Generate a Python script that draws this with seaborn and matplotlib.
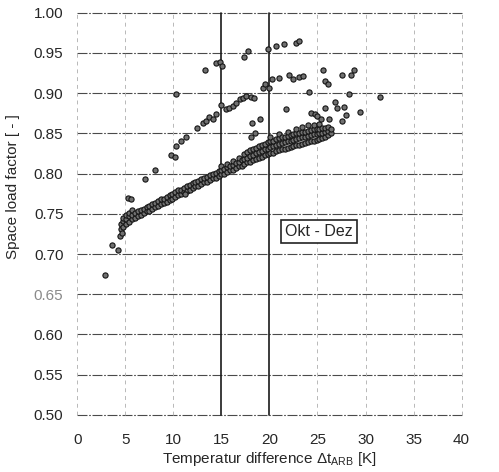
import matplotlib
matplotlib.use("Agg")
import matplotlib.pyplot as plt
import pandas as pd
import seaborn as sns

# dense band of hourly values: (temperature difference, [load factors])
band = [
    (4.5, [0.731, 0.737]), (4.8, [0.734, 0.741, 0.745]), (5.1, [0.737, 0.744, 0.749]),
    (5.4, [0.740, 0.747, 0.751]), (5.7, [0.743, 0.749, 0.755]), (6.0, [0.745, 0.751]),
    (6.3, [0.747, 0.753]), (6.6, [0.749, 0.755]), (6.9, [0.751, 0.756]),
    (7.2, [0.753, 0.758]), (7.5, [0.754, 0.760]), (7.8, [0.756, 0.762]),
    (8.1, [0.758, 0.764]), (8.4, [0.760, 0.766]), (8.7, [0.762, 0.768]),
    (9.0, [0.764, 0.769]), (9.3, [0.765, 0.771]), (9.6, [0.767, 0.773]),
    (9.9, [0.769, 0.775]), (10.2, [0.771, 0.777]), (10.5, [0.773, 0.779]),
    (10.8, [0.775, 0.780]), (11.1, [0.777, 0.782]), (11.4, [0.778, 0.784]),
    (11.7, [0.780, 0.786]), (12.0, [0.782, 0.788]), (12.3, [0.784, 0.789]),
    (12.6, [0.785, 0.791]), (12.9, [0.787, 0.793]), (13.2, [0.789, 0.795]),
    (13.5, [0.790, 0.796]), (13.8, [0.792, 0.798]), (14.1, [0.794, 0.800]),
    (14.4, [0.795, 0.801]), (14.7, [0.797, 0.803]), (15.0, [0.799, 0.805, 0.809]),
    (15.3, [0.800, 0.806]), (15.6, [0.802, 0.808, 0.812]), (15.9, [0.804, 0.810]),
    (16.2, [0.805, 0.811, 0.816]), (16.5, [0.807, 0.813]), (16.8, [0.809, 0.815, 0.820]),
    (17.1, [0.810, 0.817]), (17.4, [0.812, 0.818, 0.824]), (17.7, [0.814, 0.820, 0.827]),
    (18.0, [0.815, 0.822, 0.829]), (18.3, [0.817, 0.823, 0.831]), (18.6, [0.818, 0.825, 0.832]),
    (18.9, [0.820, 0.827, 0.834]), (19.2, [0.821, 0.828, 0.836]), (19.5, [0.823, 0.830, 0.837]),
    (19.8, [0.824, 0.831, 0.839]), (20.1, [0.825, 0.833, 0.840, 0.846]),
    (20.4, [0.826, 0.834, 0.841]), (20.7, [0.828, 0.835, 0.843]),
    (21.0, [0.829, 0.837, 0.844, 0.849]), (21.3, [0.830, 0.838, 0.845]),
    (21.6, [0.831, 0.839, 0.846]), (21.9, [0.832, 0.840, 0.847, 0.852]),
    (22.2, [0.833, 0.841, 0.848]), (22.5, [0.834, 0.842, 0.849]),
    (22.8, [0.835, 0.843, 0.850, 0.855]), (23.1, [0.836, 0.844, 0.851]),
    (23.4, [0.837, 0.845, 0.852, 0.858]), (23.7, [0.838, 0.846, 0.852]),
    (24.0, [0.839, 0.847, 0.853, 0.860]), (24.3, [0.840, 0.848, 0.854]),
    (24.6, [0.841, 0.849, 0.855, 0.861]), (24.9, [0.842, 0.849, 0.855]),
    (25.2, [0.843, 0.850, 0.856, 0.862]), (25.5, [0.844, 0.851, 0.857]),
    (25.8, [0.846, 0.852, 0.857]), (26.1, [0.848, 0.853, 0.858]),
    (26.4, [0.850, 0.855]),
]

# scattered values above / below the band
low_points = [(2.9, 0.674), (3.6, 0.711), (4.2, 0.705), (4.4, 0.722), (4.6, 0.726),
              (5.3, 0.770), (5.6, 0.768), (7.0, 0.793), (8.1, 0.805), (11.2, 0.775)]
mid_points = [(9.8, 0.823), (10.2, 0.821), (10.3, 0.834), (10.8, 0.840), (11.3, 0.845),
              (12.5, 0.857), (13.05, 0.863), (13.4, 0.865), (13.75, 0.870), (14.1, 0.868),
              (14.45, 0.874), (15.0, 0.885), (15.5, 0.880), (15.8, 0.882), (16.2, 0.884),
              (16.5, 0.888), (16.9, 0.893), (17.2, 0.894), (17.6, 0.896), (18.1, 0.895),
              (18.4, 0.894), (19.3, 0.907), (19.5, 0.911), (20.0, 0.907), (20.3, 0.917),
              (21.0, 0.919), (22.0, 0.923), (22.4, 0.918), (23.1, 0.920), (23.5, 0.921),
              (18.2, 0.863), (19.0, 0.868), (18.1, 0.845), (18.5, 0.850), (21.7, 0.880)]
high_points = [(10.3, 0.899), (13.3, 0.929), (14.4, 0.938), (14.9, 0.939), (15.1, 0.934),
               (17.4, 0.945), (17.8, 0.952), (19.9, 0.955), (20.7, 0.959), (21.5, 0.961),
               (22.8, 0.963), (23.1, 0.965)]
right_points = [(25.6, 0.929), (25.8, 0.915), (26.1, 0.911), (27.5, 0.923), (28.5, 0.922),
                (28.75, 0.929), (24.1, 0.901), (28.3, 0.899), (31.5, 0.895), (25.8, 0.881),
                (26.8, 0.889), (27.0, 0.882), (27.8, 0.883), (28.0, 0.873), (27.5, 0.866),
                (29.4, 0.877), (24.3, 0.875), (24.7, 0.874), (25.0, 0.872), (25.4, 0.868),
                (26.25, 0.868)]

x_ticks = [0, 5, 10, 15, 20, 25, 30, 35, 40]
y_ticks = [0.50, 0.55, 0.60, 0.65, 0.70, 0.75, 0.80, 0.85, 0.90, 0.95, 1.00]

rows = [(x, y) for x, ys in band for y in ys]
rows += low_points + mid_points + high_points + right_points
df = pd.DataFrame(rows, columns=["dt", "load"])

sns.set_theme(style="white")
plt.rcParams["font.family"] = ["Liberation Sans", "DejaVu Sans"]
plt.rcParams["mathtext.fontset"] = "custom"
plt.rcParams["mathtext.rm"] = "Liberation Sans"

fig = plt.figure(figsize=(4.99, 4.72), dpi=100)
ax = fig.add_axes([0.155, 0.121, 0.770, 0.852])

# grid lines (scan look: dark dashed horizontals, light dashed verticals)
for y in y_ticks:
    ax.axhline(y, color="#4a4a4a", lw=0.8, ls=(0, (9, 1.5, 1.5, 1.5)), clip_on=False, zorder=1)
for x in x_ticks:
    if x in (15, 20):
        ax.axvline(x, color="#1a1a1a", lw=1.2, clip_on=False, zorder=1)
    else:
        ax.axvline(x, color="#b8b8b8", lw=0.7, ls=(0, (4, 4)), clip_on=False, zorder=1)

sns.scatterplot(data=df, x="dt", y="load", ax=ax, s=14, marker="o",
                facecolor="#707070", edgecolor="#141414", linewidth=0.8, zorder=3)

ax.set_xlim(0, 40)
ax.set_ylim(0.50, 1.00)
ax.set_xticks(x_ticks)
ax.set_yticks(y_ticks)
ax.set_xticklabels([str(t) for t in x_ticks], fontsize=11)
ax.set_yticklabels([f"{t:.2f}" for t in y_ticks], fontsize=11)
for lab in ax.get_yticklabels():
    if lab.get_text() == "0.65":
        lab.set_color("#8a8a8a")
ax.tick_params(axis="x", length=0, pad=13)
ax.tick_params(axis="y", length=0, pad=10)
for sp in ax.spines.values():
    sp.set_visible(False)

ax.set_xlabel(r"Temperatur difference Δt$_{\mathrm{ARB}}$ [K]", fontsize=11, labelpad=2)
ax.set_ylabel("Space load factor [ - ]", fontsize=11)
ax.yaxis.set_label_coords(-0.149, 0.567)

ax.text(25.15, 0.7276, "Okt - Dez", fontsize=11.5, ha="center", va="center",
        bbox=dict(boxstyle="square,pad=0.25", facecolor="white", edgecolor="#222222", lw=1.2),
        zorder=4)

fig.savefig("out.png", dpi=100)
